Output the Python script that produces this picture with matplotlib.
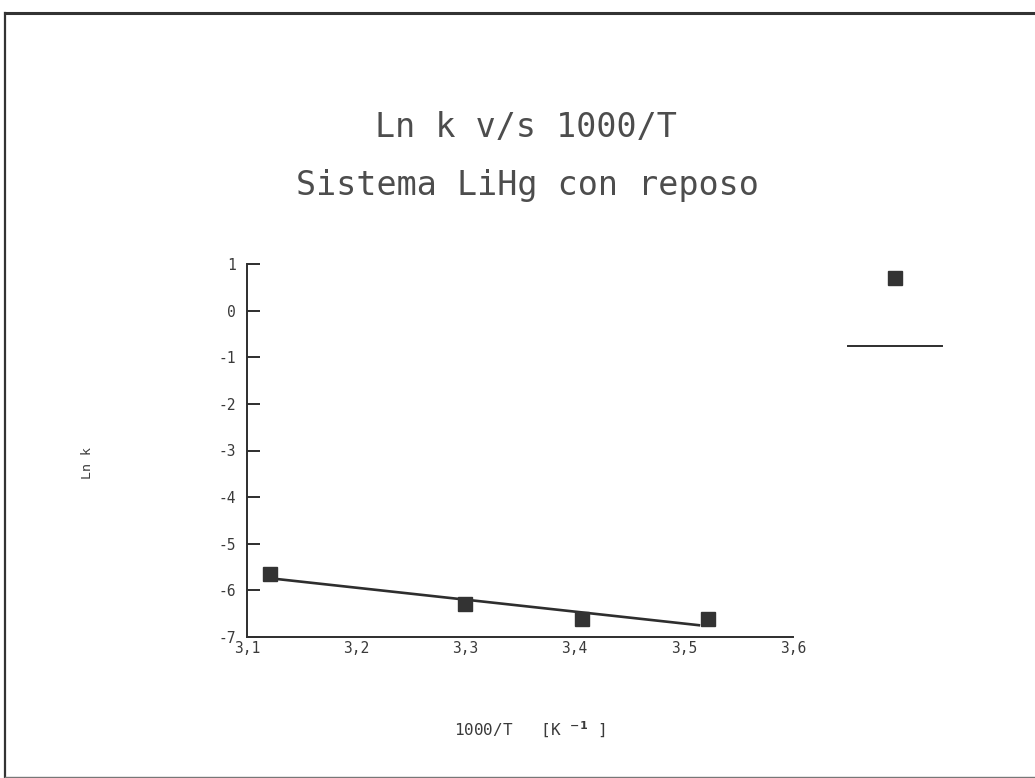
import matplotlib
matplotlib.use("Agg")
import matplotlib.pyplot as plt
from matplotlib.lines import Line2D

# ---- data ----
inv_T = [3.121, 3.300, 3.407, 3.522]          # 1000/T  [K^-1]
ln_k = [-5.65, -6.30, -6.62, -6.62]           # Ln k
fit_x = [3.121, 3.515]                        # fitted line end points
fit_y = [-5.74, -6.75]
x_ticks = [3.1, 3.2, 3.3, 3.4, 3.5, 3.6]
x_tick_labels = ['3,1', '3,2', '3,3', '3,4', '3,5', '3,6']
y_ticks = [-7, -6, -5, -4, -3, -2, -1, 0, 1]
y_tick_labels = ['-7', '-6', '-5', '-4', '-3', '-2', '-1', '0', '1']

INK = '#2e2e2e'
TXT = '#3a3a3a'

fig = plt.figure(figsize=(10.35, 7.78), dpi=100)
fig.patch.set_facecolor('white')

ax = fig.add_axes([247 / 1035, 1 - 637 / 778, (793 - 247) / 1035, (637 - 264) / 778])
ax.set_facecolor('none')

ax.plot(fit_x, fit_y, color=INK, lw=1.9, solid_capstyle='butt', zorder=2)
ax.plot(inv_T, ln_k, linestyle='none', marker='s', markersize=9.5,
        color='#333333', markeredgecolor='#333333', zorder=3)

ax.set_xlim(3.1, 3.6)
ax.set_ylim(-7, 1)
ax.set_xticks(x_ticks)
ax.set_xticklabels(x_tick_labels)
ax.set_yticks(y_ticks)
ax.set_yticklabels(y_tick_labels)

for s in ['top', 'right']:
    ax.spines[s].set_visible(False)
for s in ['left', 'bottom']:
    ax.spines[s].set_color(INK)
    ax.spines[s].set_linewidth(1.4)

ax.tick_params(axis='x', length=0, pad=3, labelsize=10.5, labelcolor=TXT)
ax.tick_params(axis='y', direction='in', length=9.5, width=1.4, color=INK,
               pad=8, labelsize=10.5, labelcolor=TXT)
for lab in ax.get_xticklabels() + ax.get_yticklabels():
    lab.set_family('DejaVu Sans Mono')

ax.set_xlabel(r'1000/T   [K $^{\mathbf{-1}}$ ]', fontsize=11.5, color=TXT,
              family='DejaVu Sans Mono')
ax.xaxis.set_label_coords((530 - 247) / (793 - 247), -(720 - 637) / (637 - 264))
ax.set_ylabel('Ln k', fontsize=9.5, color=TXT, family='DejaVu Sans Mono')
ax.yaxis.set_label_coords(-(247 - 94) / (793 - 247), (637 - 463) / (637 - 264))

# titles
fig.text(526 / 1035, 1 - 127 / 778, 'Ln k v/s 1000/T', ha='center', va='center',
         fontsize=24, color='#4d4d4d', family='DejaVu Sans Mono')
fig.text(527 / 1035, 1 - 185 / 778, 'Sistema LiHg con reposo', ha='center', va='center',
         fontsize=24, color='#4d4d4d', family='DejaVu Sans Mono')

# legend (marker + line, no text)
h_marker = Line2D([], [], linestyle='none', marker='s', markersize=10,
                  color='#333333')
h_line = Line2D([], [], color=INK, lw=1.4)
leg = fig.legend([h_marker, h_line], [' ', ' '], loc='upper left',
                 bbox_to_anchor=(848 / 1035, 1 - 272 / 778), frameon=False,
                 handlelength=6.8, handletextpad=0.0, labelspacing=3.9,
                 fontsize=10, numpoints=1, borderpad=0, borderaxespad=0)

# page frame
fig.add_artist(Line2D([5 / 1035, 1.0], [1 - 13 / 778, 1 - 13 / 778],
                      transform=fig.transFigure, color='#333333', lw=2.2))
fig.add_artist(Line2D([5 / 1035, 5 / 1035], [1 - 13 / 778, 0.0],
                      transform=fig.transFigure, color='#333333', lw=1.6))
fig.add_artist(Line2D([5 / 1035, 1.0], [1 / 778, 1 / 778],
                      transform=fig.transFigure, color='#777777', lw=1.0))

fig.savefig('out.png', dpi=100, facecolor='white')
